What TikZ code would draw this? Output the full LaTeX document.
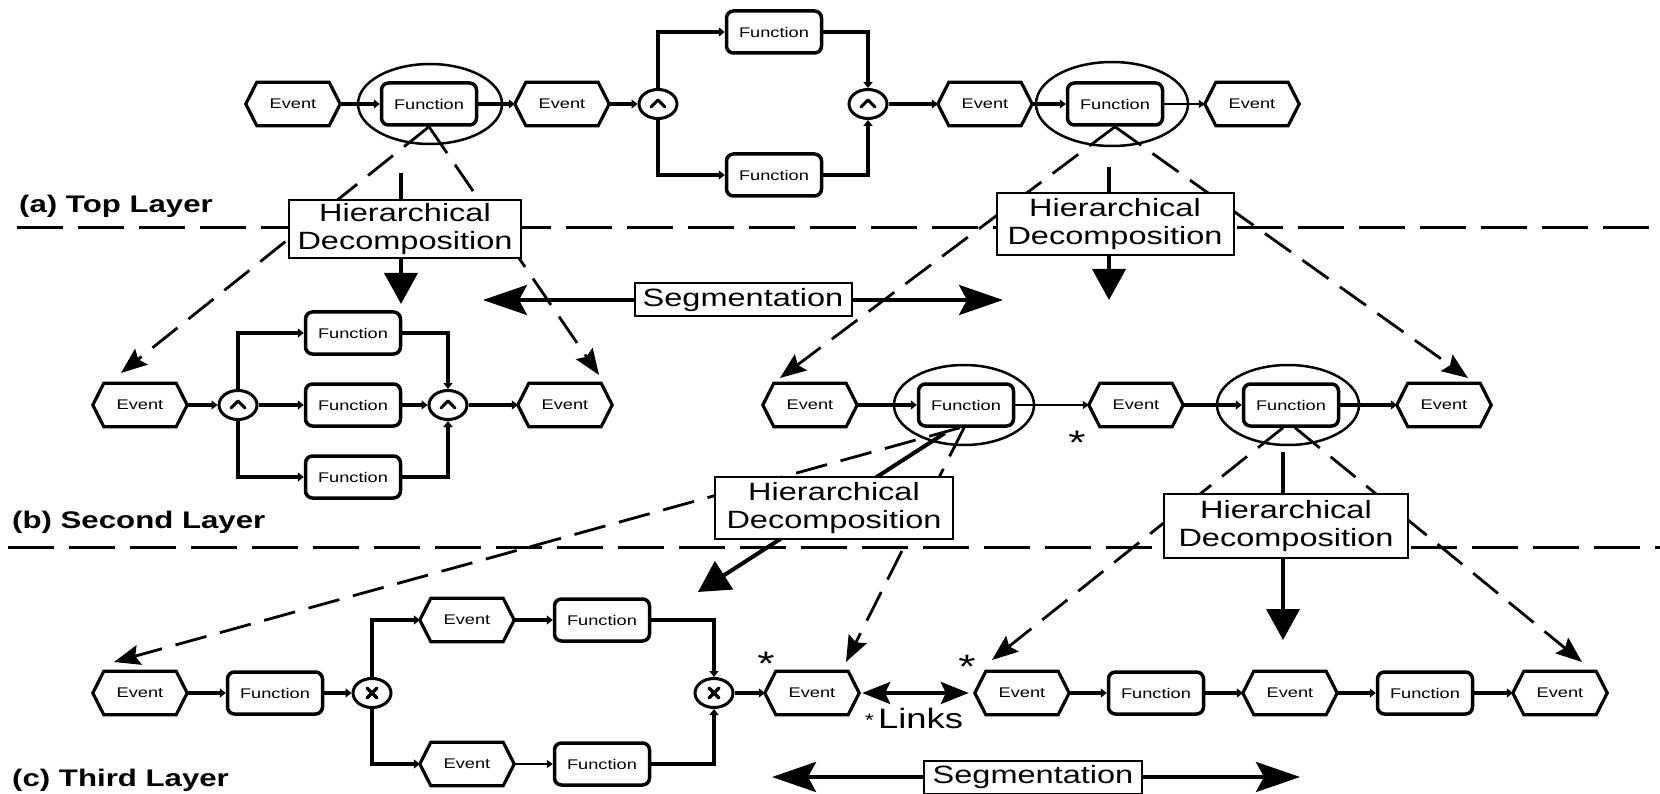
\documentclass[tikz,border=0pt]{standalone}
\usepackage{fontspec}
\setmainfont{Liberation Sans}[FakeStretch=1.3]
\usetikzlibrary{arrows.meta,shapes.geometric}
\pgfdeclarelayer{back}
\pgfsetlayers{back,main}

\tikzset{
  evbox/.style={rectangle, minimum width=94pt, minimum height=43pt, inner sep=0pt, font=\fontsize{14}{16}\selectfont},
  evline/.style={line width=3.2pt, line join=miter},
  fnbox/.style={rectangle, rounded corners=7pt, draw, line width=3.5pt, fill=white, minimum width=95pt, minimum height=42pt, inner sep=0pt, font=\fontsize{14}{16}\selectfont},
  gatebox/.style={ellipse, draw, line width=3pt, fill=white, minimum width=38pt, minimum height=29pt, inner sep=0pt},
  gsym/.style={line width=3pt, line cap=round, line join=round},
  ring/.style={ellipse, draw, line width=2.5pt, inner sep=0pt},
  flow/.style={line width=4.5pt, -{Triangle[length=6pt,width=9pt]}},
  flowmid/.style={line width=3.2pt, -{Triangle[length=6pt,width=9pt]}},
  flowthin/.style={line width=2pt, -{Triangle[length=6pt,width=8pt]}},
  branch/.style={line width=3.2pt, -{Triangle[length=6pt,width=9pt]}},
  decomp/.style={line width=2.8pt, dash pattern=on 32pt off 14pt, -{Stealth[length=26pt,width=20pt,inset=4pt]}},
  hdarrow/.style={line width=4pt, -{Triangle[length=31pt,width=33pt]}},
  hdbox/.style={draw, line width=2pt, fill=white, align=center, inner sep=0pt, font=\fontsize{25}{28}\selectfont},
  segbox/.style={draw, line width=2pt, fill=white, inner sep=0pt, minimum height=33pt, font=\fontsize{25}{27}\selectfont},
  segarrow/.style={line width=4pt, -{Stealth[length=44pt,width=30pt,inset=8pt]}},
  linkarrow/.style={line width=3.5pt, {Stealth[length=28pt,width=22pt,inset=5pt]}-{Stealth[length=28pt,width=22pt,inset=5pt]}},
  separator/.style={line width=3pt, dash pattern=on 46pt off 15pt},
  layerlabel/.style={anchor=base west, inner sep=0pt, font=\bfseries\fontsize{24}{26}\selectfont},
  star/.style={anchor=base, inner sep=0pt, font=\fontsize{34}{34}\selectfont},
}

% event: hexagon pointed left and right
\newcommand\eventnode[3]{%
  \node[evbox] (#1) at (#2,#3) {Event};
  \draw[evline] (#1.west) -- ([xshift=11pt]#1.north west) -- ([xshift=-11pt]#1.north east)
    -- (#1.east) -- ([xshift=-11pt]#1.south east) -- ([xshift=11pt]#1.south west) -- cycle;}
% AND connector
\newcommand\andgate[3]{%
  \node[gatebox] (#1) at (#2,#3) {};
  \draw[gsym] ([shift={(-7pt,-3pt)}]#1.center) -- ([shift={(0pt,4pt)}]#1.center) -- ([shift={(7pt,-3pt)}]#1.center);}
% XOR connector
\newcommand\xorgate[3]{%
  \node[gatebox] (#1) at (#2,#3) {};
  \draw[gsym,line width=3.5pt] ([shift={(-5pt,-5pt)}]#1.center) -- ([shift={(5pt,5pt)}]#1.center)
    ([shift={(-5pt,5pt)}]#1.center) -- ([shift={(5pt,-5pt)}]#1.center);}

\begin{document}
\begin{tikzpicture}[x=1pt,y=-1pt]
\useasboundingbox (0,0) rectangle (1660,794);

% ---------------- top layer ----------------
\eventnode{evA}{293}{104}
\node[ring, minimum width=144pt, minimum height=80pt] (ringA) at (430,104) {};
\node[fnbox] (fnA) at (429,104) {Function};
\eventnode{evB}{562}{104}
\andgate{g1}{658}{104}
\node[fnbox] (fnT) at (774,32) {Function};
\node[fnbox] (fnU) at (774,175) {Function};
\andgate{g2}{868}{104}
\eventnode{evC}{985}{104}
\node[ring, minimum width=152pt, minimum height=84pt] (ringB) at (1112,104) {};
\node[fnbox] (fnB) at (1115,104) {Function};
\eventnode{evD}{1252}{104}

\draw[flow] (evA) -- (fnA);
\draw[flow] (fnA) -- (evB);
\draw[flow] (evB) -- (g1);
\draw[branch] (g1.north) |- (fnT.west);
\draw[branch] (g1.south) |- (fnU.west);
\draw[branch] (fnT.east) -| (g2.north);
\draw[branch] (fnU.east) -| (g2.south);
\draw[flow] (g2) -- (evC);
\draw[flow] (evC) -- (fnB);
\draw[flowthin] (fnB) -- (evD);

% ---------------- second layer ----------------
\eventnode{evL1}{140}{405}
\andgate{g3}{238}{405}
\node[fnbox] (fnL1) at (353,333) {Function};
\node[fnbox] (fnL2) at (353,405) {Function};
\node[fnbox] (fnL3) at (353,477) {Function};
\andgate{g4}{448}{405}
\eventnode{evL2}{565}{405}

\draw[flow] (evL1) -- (g3);
\draw[flow] (g3) -- (fnL2);
\draw[branch] (g3.north) |- (fnL1.west);
\draw[branch] (g3.south) |- (fnL3.west);
\draw[flowmid] (fnL2) -- (g4);
\draw[branch] (fnL1.east) -| (g4.north);
\draw[branch] (fnL3.east) -| (g4.south);
\draw[flow] (g4) -- (evL2);

\eventnode{evR1}{810}{405}
\node[ring, minimum width=140pt, minimum height=80pt] (ringC) at (964,405) {};
\node[fnbox] (fnC) at (966,405) {Function};
\eventnode{evR2}{1136}{405}
\node[ring, minimum width=142pt, minimum height=80pt] (ringD) at (1288,405) {};
\node[fnbox] (fnD) at (1291,405) {Function};
\eventnode{evR3}{1444}{405}

\draw[flow] (evR1) -- (fnC);
\draw[flowthin] (fnC) -- (evR2);
\draw[flow] (evR2) -- (fnD);
\draw[flowmid] (fnD) -- (evR3);

% ---------------- third layer ----------------
\eventnode{evT1}{140}{693}
\node[fnbox] (fnT1) at (275,693) {Function};
\xorgate{x1}{372}{693}
\eventnode{evT2}{467}{620}
\node[fnbox] (fnT2) at (602,620) {Function};
\eventnode{evT3}{467}{764}
\node[fnbox] (fnT3) at (602,764) {Function};
\xorgate{x2}{714}{693}
\eventnode{evT5}{812}{693}

\draw[flow] (evT1) -- (fnT1);
\draw[flow] (fnT1) -- (x1);
\draw[branch] (x1.north) |- (evT2.west);
\draw[branch] (x1.south) |- (evT3.west);
\draw[flow] (evT2) -- (fnT2);
\draw[flowthin] (evT3) -- (fnT3);
\draw[branch] (fnT2.east) -| (x2.north);
\draw[branch] (fnT3.east) -| (x2.south);
\draw[flow] (x2) -- (evT5);

\eventnode{evT6}{1022}{693}
\node[fnbox] (fnT6) at (1156,693) {Function};
\eventnode{evT7}{1290}{693}
\node[fnbox] (fnT7) at (1425,693) {Function};
\eventnode{evT8}{1560}{693}

\draw[flow] (evT6) -- (fnT6);
\draw[flow] (fnT6) -- (evT7);
\draw[flow] (evT7) -- (fnT7);
\draw[flowmid] (fnT7) -- (evT8);

% links between segments
\draw[linkarrow, shorten <=3pt, shorten >=6pt] (evT5.east) -- (evT6.west);
\node[inner sep=0pt] (links) at (914,718)
  {\raisebox{2pt}{\fontsize{18}{18}\selectfont*}\hspace{4pt}{\fontsize{28}{30}\selectfont Links}};
\node[star] (st1) at (1077,454) {*};
\node[star] (st2) at (766,675) {*};
\node[star] (st3) at (967,678) {*};

% ---------------- decomposition boxes ----------------
\node[hdbox, minimum width=232pt, minimum height=58pt] (hdA) at (405,229) {Hierarchical\\Decomposition};
\node[hdbox, minimum width=237pt, minimum height=62pt] (hdB) at (1115,224) {Hierarchical\\Decomposition};
\node[hdbox, minimum width=238pt, minimum height=62pt] (hdC) at (834,508) {Hierarchical\\Decomposition};
\node[hdbox, minimum width=244pt, minimum height=64pt] (hdD) at (1286,526) {Hierarchical\\Decomposition};

% ---------------- segmentation ----------------
\node[segbox, minimum width=217pt] (segA) at (743,300) {Segmentation};
\coordinate (segAl) at (483,300);
\coordinate (segAr) at (1003,300);
\draw[segarrow] (segA) -- (segAl);
\draw[segarrow] (segA) -- (segAr);
\node[segbox, minimum width=218pt] (segB) at (1033,777) {Segmentation};
\coordinate (segBl) at (772,777);
\coordinate (segBr) at (1300,777);
\draw[segarrow] (segB) -- (segBl);
\draw[segarrow] (segB) -- (segBr);

% ---------------- layer labels ----------------
\node[layerlabel] (labA) at (19,213) {(a) Top Layer};
\node[layerlabel] (labB) at (12,528) {(b) Second Layer};
\node[layerlabel] (labC) at (12,786) {(c) Third Layer};

% ---------------- lines behind the boxes ----------------
\begin{pgfonlayer}{back}
  \coordinate (sepAl) at (17,228);  \coordinate (sepAr) at (1660,228);
  \coordinate (sepBl) at (8,547);   \coordinate (sepBr) at (1660,547);
  \draw[separator] (sepAl) -- (sepAr);
  \draw[separator] (sepBl) -- (sepBr);

  \coordinate (tA1) at (121,373);  \coordinate (tA2) at (599,375);
  \coordinate (tB1) at (780,378);  \coordinate (tB2) at (1468,378);
  \coordinate (tC1) at (114,662);  \coordinate (tC2) at (846,662);
  \coordinate (tD1) at (992,660);  \coordinate (tD2) at (1582,662);
  \draw[decomp] (fnA.south) -- (tA1);
  \draw[decomp] (fnA.south) -- (tA2);
  \draw[decomp] (fnB.south) -- (tB1);
  \draw[decomp] (fnB.south) -- (tB2);
  \draw[decomp] ([xshift=-6pt]fnC.south) -- (tC1);
  \draw[decomp] ([xshift=-2pt]fnC.south) -- (tC2);
  \draw[decomp] ([xshift=-8pt]fnD.south) -- (tD1);
  \draw[decomp] ([xshift=4pt]fnD.south) -- (tD2);

  \coordinate (hA1) at (401,173);  \coordinate (hA2) at (401,304);
  \coordinate (hB1) at (1109,167); \coordinate (hB2) at (1109,300);
  \coordinate (hC1) at (945,433);  \coordinate (hC2) at (698,592);
  \coordinate (hD1) at (1283,452); \coordinate (hD2) at (1283,640);
  \draw[hdarrow] (hA1) -- (hA2);
  \draw[hdarrow] (hB1) -- (hB2);
  \draw[hdarrow] (hC1) -- (hC2);
  \draw[hdarrow] (hD1) -- (hD2);
\end{pgfonlayer}
\end{tikzpicture}
\end{document}
